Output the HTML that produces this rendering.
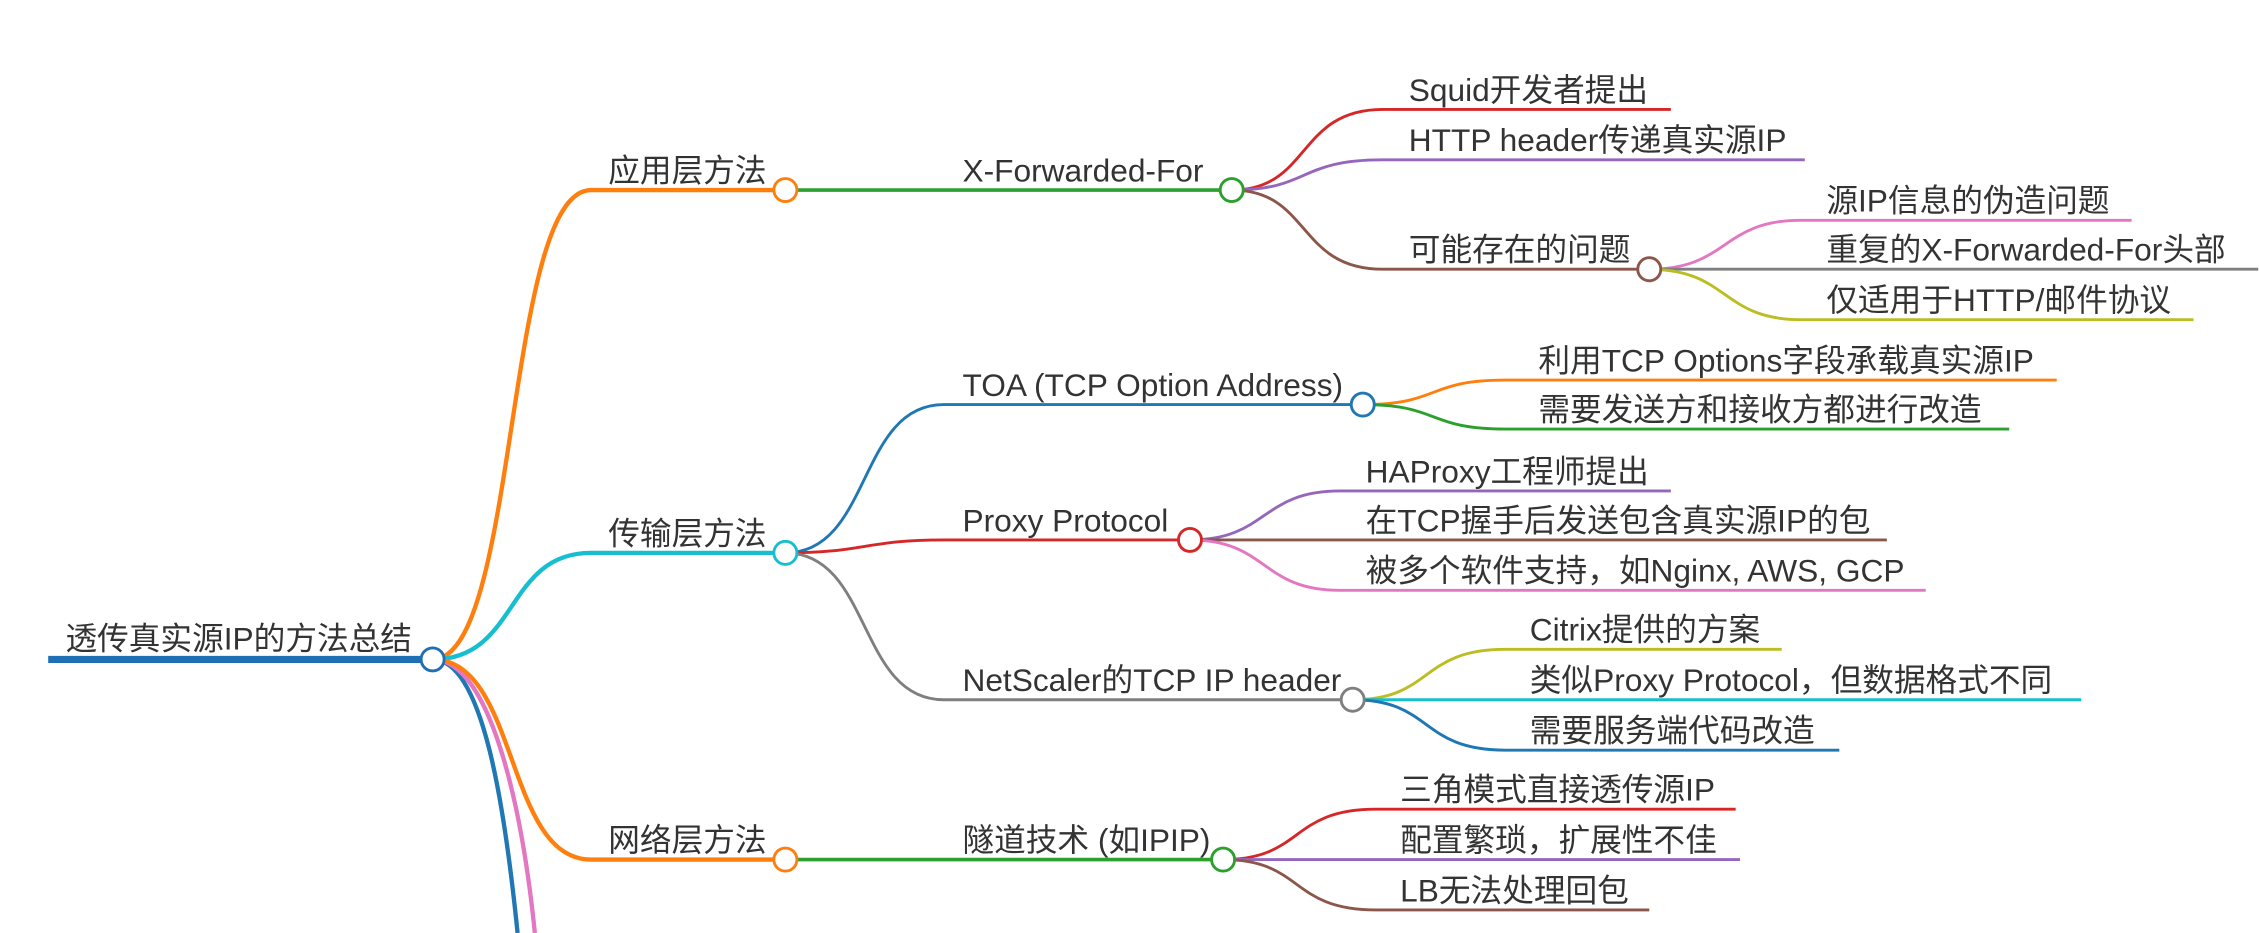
<!DOCTYPE html>
<html><head><meta charset="utf-8"><style>
html,body{margin:0;padding:0;background:#fff;width:2259px;height:933px;overflow:hidden}
svg{display:block;overflow:hidden}
text{font-family:"Liberation Sans","Noto Sans CJK SC",sans-serif;font-size:22px;fill:#333}
path{fill:none;stroke-linecap:butt}
circle{fill:#fff;stroke-width:2}
</style></head><body>
<svg width="2259" height="933" viewBox="0 0 1568 648" xmlns="http://www.w3.org/2000/svg">
<path d="M300 458 C335 458 350 560 359 648" stroke="#1f77b4" stroke-width="3"/>
<path d="M300 458 C340 458 362 560 371 648" stroke="#e377c2" stroke-width="3"/>
<path d="M300 458 C360 458 350 132 410 132 L545 132" stroke="#ff7f0e" stroke-width="3"/>
<path d="M300 458 C360 458 350 384 410 384 L545 384" stroke="#17becf" stroke-width="3"/>
<path d="M300 458 C360 458 350 597 410 597 L545 597" stroke="#ff7f0e" stroke-width="3"/>
<path d="M33 458 L300 458" stroke="#1f6fb4" stroke-width="5"/>
<text x="45" y="451">透传真实源IP的方法总结</text>
<text x="422" y="126">应用层方法</text>
<path d="M545 132 L855 132" stroke="#2ca02c" stroke-width="2.5"/>
<text x="668" y="126">X-Forwarded-For</text>
<path d="M855 132 C910 132 900 76 960 76 L1160 76" stroke="#d62728" stroke-width="2"/>
<text x="978" y="70">Squid开发者提出</text>
<path d="M855 132 C910 132 900 111 960 111 L1253 111" stroke="#9467bd" stroke-width="2"/>
<text x="978" y="105">HTTP header传递真实源IP</text>
<path d="M855 132 C910 132 900 187 960 187 L1145 187" stroke="#8c564b" stroke-width="2"/>
<text x="978" y="181">可能存在的问题</text>
<path d="M1145 187 C1200 187 1195 153 1250 153 L1480 153" stroke="#e377c2" stroke-width="2"/>
<text x="1268" y="147">源IP信息的伪造问题</text>
<path d="M1145 187 L1568 187" stroke="#7f7f7f" stroke-width="2"/>
<text x="1268" y="181">重复的X-Forwarded-For头部</text>
<path d="M1145 187 C1200 187 1195 222 1250 222 L1523 222" stroke="#bcbd22" stroke-width="2"/>
<text x="1268" y="216">仅适用于HTTP/邮件协议</text>
<text x="422" y="378">传输层方法</text>
<path d="M545 384 C605 384 595 281 655 281 L946 281" stroke="#1f77b4" stroke-width="2"/>
<text x="668" y="275">TOA (TCP Option Address)</text>
<path d="M946 281 C1000 281 990 264 1045 264 L1428 264" stroke="#ff7f0e" stroke-width="2"/>
<text x="1068" y="258">利用TCP Options字段承载真实源IP</text>
<path d="M946 281 C1000 281 990 298 1045 298 L1395 298" stroke="#2ca02c" stroke-width="2"/>
<text x="1068" y="292">需要发送方和接收方都进行改造</text>
<path d="M545 384 C600 384 600 375 655 375 L826 375" stroke="#d62728" stroke-width="2"/>
<text x="668" y="369">Proxy Protocol</text>
<path d="M826 375 C880 375 875 341 930 341 L1160 341" stroke="#9467bd" stroke-width="2"/>
<text x="948" y="335">HAProxy工程师提出</text>
<path d="M826 375 L1310 375" stroke="#8c564b" stroke-width="2"/>
<text x="948" y="369">在TCP握手后发送包含真实源IP的包</text>
<path d="M826 375 C880 375 875 410 930 410 L1337 410" stroke="#e377c2" stroke-width="2"/>
<text x="948" y="404">被多个软件支持，如Nginx, AWS, GCP</text>
<path d="M545 384 C605 384 595 486 655 486 L939 486" stroke="#7f7f7f" stroke-width="2"/>
<text x="668" y="480">NetScaler的TCP IP header</text>
<path d="M939 486 C995 486 985 451 1045 451 L1237 451" stroke="#bcbd22" stroke-width="2"/>
<text x="1062" y="445">Citrix提供的方案</text>
<path d="M939 486 L1445 486" stroke="#17becf" stroke-width="2"/>
<text x="1062" y="480">类似Proxy Protocol，但数据格式不同</text>
<path d="M939 486 C995 486 985 521 1045 521 L1277 521" stroke="#1f77b4" stroke-width="2"/>
<text x="1062" y="515">需要服务端代码改造</text>
<text x="422" y="591">网络层方法</text>
<path d="M545 597 L849 597" stroke="#2ca02c" stroke-width="2.5"/>
<text x="668" y="591">隧道技术 (如IPIP)</text>
<path d="M849 597 C905 597 895 562 955 562 L1205 562" stroke="#d62728" stroke-width="2"/>
<text x="972" y="556">三角模式直接透传源IP</text>
<path d="M849 597 L1208 597" stroke="#9467bd" stroke-width="2"/>
<text x="972" y="591">配置繁琐，扩展性不佳</text>
<path d="M849 597 C905 597 895 632 955 632 L1145 632" stroke="#8c564b" stroke-width="2"/>
<text x="972" y="626">LB无法处理回包</text>
<circle cx="300" cy="458" r="8" stroke="#1f6fb4"/>
<circle cx="545" cy="132" r="8" stroke="#ff7f0e"/>
<circle cx="855" cy="132" r="8" stroke="#2ca02c"/>
<circle cx="1145" cy="187" r="8" stroke="#8c564b"/>
<circle cx="545" cy="384" r="8" stroke="#17becf"/>
<circle cx="946" cy="281" r="8" stroke="#1f77b4"/>
<circle cx="826" cy="375" r="8" stroke="#d62728"/>
<circle cx="939" cy="486" r="8" stroke="#7f7f7f"/>
<circle cx="545" cy="597" r="8" stroke="#ff7f0e"/>
<circle cx="849" cy="597" r="8" stroke="#2ca02c"/>
</svg>
</body></html>
